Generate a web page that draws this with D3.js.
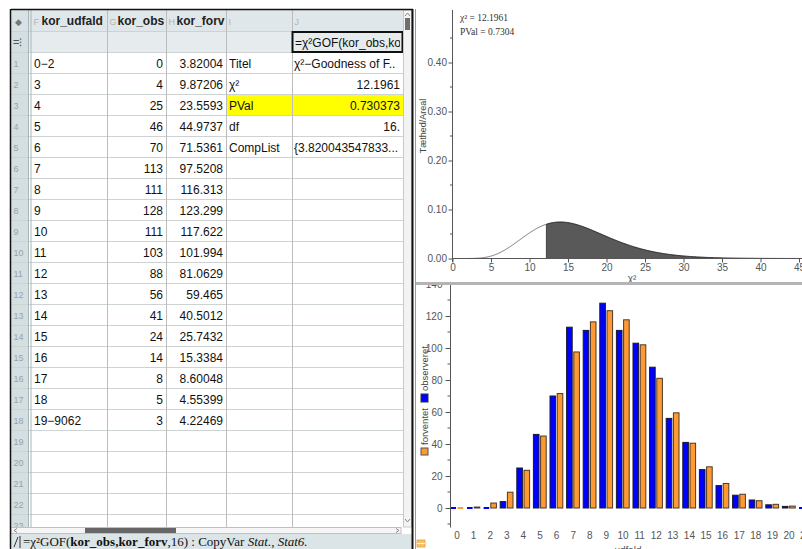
<!DOCTYPE html>
<html><head><meta charset="utf-8">
<script src="https://cdn.jsdelivr.net/npm/d3@7"></script>
<style>
html,body{margin:0;padding:0;background:#fff;}
svg{display:block;}
text{font-family:"Liberation Sans",Arial,sans-serif;}
text.serif{font-family:"Liberation Serif","Times New Roman",serif;}
</style></head><body>
<svg id="c" width="802" height="549"></svg>
<script>
// ---------- data ----------
const udfald  = ["0−2","3","4","5","6","7","8","9","10","11","12","13","14","15","16","17","18","19−9062"];
const korObs  = [0,4,25,46,70,113,111,128,111,103,88,56,41,24,14,8,5,3];
const korForv = ["3.82004","9.87206","23.5593","44.9737","71.5361","97.5208","116.313","123.299","117.622","101.994","81.0629","59.465","40.5012","25.7432","15.3384","8.60048","4.55399","4.22469"];
const statNames  = ["Titel","χ²","PVal","df","CompList"];
const statValues = ["χ²−Goodness of F..","12.1961","0.730373","16.","{3.820043547833..."];
const colLetters = ["F","G","H","I","J"];
const colNames   = ["kor_udfald","kor_obs","kor_forv","",""];
const chi2Stat = 12.1961, pValStat = 0.7304, dfStat = 16;
const chiTicks = [0,5,10,15,20,25,30,35,40,45];
const densTicks = [0,0.1,0.2,0.3,0.4];
const barCats = ["0","1","2","3","4","5","6","7","8","9","10","11","12","13","14","15","16","17","18","19","20","21"];
const observeret = [0,0,0,4,25,46,70,113,111,128,111,103,88,56,41,24,14,8,5,2,1,0];
const forventet  = [0.1,0.6,3.1,9.87,23.56,44.97,71.54,97.52,116.31,123.30,117.62,101.99,81.06,59.47,40.50,25.74,15.34,8.60,4.55,2.3,1.2,0.5];
const countTicks = [0,20,40,60,80,100,120,140];

const svg = d3.select("#c");
const defs = svg.append("defs");

// ---------- spreadsheet ----------
const sh = svg.append("g");
const L = 11, R = 403, TOP = 10, ROW0 = 52.5, RH = 21, SB = 527;
const colEdges = [31,107,166,226,292,403];
const rowTop = r => ROW0 + (r-1)*RH;

sh.append("rect").attr("x",L).attr("y",TOP).attr("width",R-L).attr("height",21.5).attr("fill","#dfe7ea");
sh.append("rect").attr("x",L).attr("y",31.5).attr("width",R-L).attr("height",21).attr("fill","#e6eced");
sh.append("rect").attr("x",L).attr("y",31.5).attr("width",17).attr("height",SB-31.5).attr("fill","#d3dfe1");
sh.append("rect").attr("x",L).attr("y",TOP).attr("width",17).attr("height",21.5).attr("fill","#d8e2e5");
sh.append("rect").attr("x",226.5).attr("y",rowTop(3)).attr("width",R-226.5).attr("height",RH).attr("fill","#ffff00");

const hLines = [31.5, 52.5].concat(d3.range(1,24).map(r => rowTop(r)+RH));
sh.selectAll("line.h").data(hLines).enter().append("line")
  .attr("x1",L).attr("x2",R).attr("y1",d=>d).attr("y2",d=>d)
  .attr("stroke","#cdd2d3").attr("stroke-width",1);
sh.selectAll("line.v").data(colEdges.slice(1,5)).enter().append("line")
  .attr("x1",d=>d+0.5).attr("x2",d=>d+0.5).attr("y1",TOP).attr("y2",SB)
  .attr("stroke","#bcbcbc");
sh.append("line").attr("x1",28.5).attr("x2",28.5).attr("y1",TOP).attr("y2",SB).attr("stroke","#a9b6b9");
sh.append("line").attr("x1",31).attr("x2",31).attr("y1",TOP).attr("y2",SB).attr("stroke","#a9b6b9");

// header
sh.append("text").attr("x",15).attr("y",25).attr("font-size",9).attr("fill","#777").text("◆");
colLetters.forEach((c,i)=>{
  sh.append("text").attr("x",colEdges[i]+2.5).attr("y",25).attr("font-size",9).attr("fill","#b5b5b5").text(c);
  if (colNames[i]) sh.append("text").attr("x",colEdges[i]+10.5).attr("y",25).attr("font-size",12)
      .attr("font-weight","bold").attr("fill","#222").text(colNames[i]);
});
sh.append("text").attr("x",13).attr("y",46).attr("font-size",11).attr("fill","#555").text("=⁝");
sh.append("rect").attr("x",292.5).attr("y",32).attr("width",110).attr("height",20)
  .attr("fill","none").attr("stroke","#111").attr("stroke-width",2);
defs.append("clipPath").attr("id","jclip").append("rect")
  .attr("x",293).attr("y",30).attr("width",107).attr("height",100);
sh.append("text").attr("x",295).attr("y",46.5).attr("font-size",12).attr("fill","#111")
  .attr("clip-path","url(#jclip)").text("=χ²GOF(kor_obs,kor_forv,16)");

d3.range(1,24).forEach(r=>{
  sh.append("text").attr("x",13.5).attr("y",rowTop(r)+14).attr("font-size",9).attr("fill","#9aa3a5").text(r);
});
udfald.forEach((u,i)=>{
  const y = rowTop(i+1)+15;
  sh.append("text").attr("x",34).attr("y",y).attr("font-size",12).attr("fill","#111").text(u);
  sh.append("text").attr("x",163).attr("y",y).attr("font-size",12).attr("fill","#111").attr("text-anchor","end").text(korObs[i]);
  sh.append("text").attr("x",223).attr("y",y).attr("font-size",12).attr("fill","#111").attr("text-anchor","end").text(korForv[i]);
});
statNames.forEach((s,i)=>{
  const y = rowTop(i+1)+15;
  sh.append("text").attr("x",229).attr("y",y).attr("font-size",12).attr("fill","#111").text(s);
  const v = statValues[i];
  const numeric = !isNaN(parseFloat(v));
  sh.append("text").attr("x",numeric?400:294).attr("y",y).attr("font-size",12).attr("fill","#111")
    .attr("text-anchor",numeric?"end":"start").text(v);
});

// scrollbars
sh.append("rect").attr("x",403.5).attr("y",TOP).attr("width",8).attr("height",SB-TOP).attr("fill","#f3f3f3").attr("stroke","#c8c8c8");
sh.append("rect").attr("x",405).attr("y",18).attr("width",5).attr("height",12).attr("fill","#6e6e6e");
sh.append("path").attr("d","M405,16 L407.5,13 L410,16").attr("fill","none").attr("stroke","#888");
sh.append("path").attr("d","M405,519 L407.5,522 L410,519").attr("fill","none").attr("stroke","#888");
sh.append("rect").attr("x",L).attr("y",527.5).attr("width",401-L).attr("height",6).attr("fill","#f5f5f5").attr("stroke","#c0c0c0");
sh.append("rect").attr("x",85).attr("y",528).attr("width",91).attr("height",5).attr("fill","#666");
sh.append("path").attr("d","M17,528.5 L14,530.5 L17,532.5").attr("fill","none").attr("stroke","#888");
sh.append("path").attr("d","M396,528.5 L399,530.5 L396,532.5").attr("fill","none").attr("stroke","#888");
// status bar
sh.append("rect").attr("x",L).attr("y",534).attr("width",412-L).attr("height",15).attr("fill","#dbe5e7");
sh.append("path").attr("d","M14,547 L18,537 M20,536 L20,548").attr("stroke","#333").attr("stroke-width",1);
const st = sh.append("text").attr("class","serif").attr("x",23).attr("y",546).attr("font-size",13).attr("fill","#111");
st.append("tspan").text("=χ²GOF(");
st.append("tspan").attr("font-weight","bold").text("kor_obs,kor_forv");
st.append("tspan").text(",16) : CopyVar ");
st.append("tspan").attr("font-style","italic").text("Stat.");
st.append("tspan").text(", ");
st.append("tspan").attr("font-style","italic").text("Stat6.");
// panel borders
sh.append("line").attr("x1",L).attr("x2",413).attr("y1",9.5).attr("y2",9.5).attr("stroke","#111").attr("stroke-width",1.5);
sh.append("line").attr("x1",L-0.5).attr("x2",L-0.5).attr("y1",9).attr("y2",549).attr("stroke","#111").attr("stroke-width",1.5);
sh.append("line").attr("x1",412.5).attr("x2",412.5).attr("y1",9).attr("y2",549).attr("stroke","#111").attr("stroke-width",2);
sh.append("line").attr("x1",415.5).attr("x2",415.5).attr("y1",9).attr("y2",549).attr("stroke","#9a9a9a").attr("stroke-width",1);

// ---------- top graph: chi-square density ----------
const tg = svg.append("g");
defs.append("clipPath").attr("id","topclip").append("rect")
  .attr("x",416).attr("y",10).attr("width",386).attr("height",272);
tg.attr("clip-path","url(#topclip)");
tg.append("line").attr("x1",413).attr("x2",802).attr("y1",9.5).attr("y2",9.5).attr("stroke","#aaa");
const xC = d3.scaleLinear().domain([0,45]).range([452.5,799]);
const yD = d3.scaleLinear().domain([0,0.4]).range([258.5,62.5]);
const halfK = dfStat/2;
const gammaHalfK = d3.range(1,halfK).reduce((a,b)=>a*b,1);
const pdf = x => x<=0 ? 0 : Math.pow(x,halfK-1)*Math.exp(-x/2)/(Math.pow(2,halfK)*gammaHalfK);
const xsLeft = d3.range(0, chi2Stat, 0.1).concat([chi2Stat]);
const xsRight = [chi2Stat].concat(d3.range(Math.ceil(chi2Stat*10)/10, 47, 0.1));
const line = d3.line().x(d=>xC(d)).y(d=>yD(pdf(d)));
const area = d3.area().x(d=>xC(d)).y0(yD(0)).y1(d=>yD(pdf(d)));
tg.append("path").attr("d",area(xsRight)).attr("fill","#595959");
tg.append("path").attr("d",line(xsRight)).attr("fill","none").attr("stroke","#222").attr("stroke-width",1);
tg.append("path").attr("d",line(xsLeft)).attr("fill","none").attr("stroke","#777").attr("stroke-width",1);
tg.append("line").attr("x1",xC(chi2Stat)).attr("x2",xC(chi2Stat)).attr("y1",yD(0)).attr("y2",yD(pdf(chi2Stat)))
  .attr("stroke","#444").attr("stroke-width",1);
const yAxT = d3.axisLeft(yD).tickValues(densTicks).tickFormat(d3.format(".2f")).tickSize(4).tickSizeOuter(0);
const gyT = tg.append("g").attr("transform","translate(452.5,0)").call(yAxT);
gyT.select(".domain").remove();
tg.append("line").attr("x1",452.5).attr("x2",452.5).attr("y1",10).attr("y2",262).attr("stroke","#555");
tg.selectAll("line.minT").data([0.05,0.15,0.25,0.35,0.45]).enter().append("line")
  .attr("x1",450).attr("x2",452.5).attr("y1",d=>yD(d)).attr("y2",d=>yD(d)).attr("stroke","#555");
const xAxT = d3.axisBottom(xC).tickValues(chiTicks).tickSize(4).tickSizeOuter(0);
const gxT = tg.append("g").attr("transform","translate(0,258.5)").call(xAxT);
gxT.select(".domain").remove();
tg.append("line").attr("x1",452.5).attr("x2",802).attr("y1",258.5).attr("y2",258.5).attr("stroke","#555");
[gyT,gxT].forEach(g=>{
  g.selectAll("text").attr("font-size",10).attr("fill","#555").style("font-family","'Liberation Sans',Arial,sans-serif");
  g.selectAll(".tick line").attr("stroke","#555");
});
gyT.selectAll("text").attr("dx",1.5);
gxT.selectAll("text").attr("dy","0.55em");
tg.append("text").attr("x",425.5).attr("y",126).attr("transform","rotate(-90,425.5,126)")
  .attr("text-anchor","middle").attr("font-size",9).attr("fill","#444").text("Tæthed/Areal");
tg.append("text").attr("x",632).attr("y",282).attr("text-anchor","middle").attr("font-size",10).attr("fill","#555").text("χ²");
tg.append("text").attr("class","serif").attr("x",460).attr("y",21).attr("font-size",9.5).attr("fill","#333")
  .text("χ² = " + chi2Stat.toFixed(4));
tg.append("text").attr("class","serif").attr("x",460).attr("y",35).attr("font-size",9.5).attr("fill","#333")
  .text("PVal = " + pValStat.toFixed(4));

svg.append("rect").attr("x",416).attr("y",282).attr("width",386).attr("height",3).attr("fill","#b4b4b4");

// ---------- bottom graph: bars ----------
const bg = svg.append("g");
defs.append("clipPath").attr("id","botclip").append("rect")
  .attr("x",416).attr("y",285).attr("width",386).attr("height",264);
bg.attr("clip-path","url(#botclip)");
const xB = d3.scalePoint().domain(barCats).range([457, 457+16.6*21]);
const yB = d3.scaleLinear().domain([0,140]).range([508,284]);
const barW = 5.6;
function drawBars(vals, dx, fill, stroke){
  bg.selectAll(null).data(barCats).enter().append("rect")
    .attr("x",d=>xB(d)+dx)
    .attr("width",barW)
    .attr("y",(d,i)=> vals[i] < 0.3 ? yB(0)-1 : yB(vals[i]))
    .attr("height",(d,i)=> vals[i] < 0.3 ? 2 : yB(0)-yB(vals[i]))
    .attr("fill",fill)
    .attr("stroke",(d,i)=> vals[i] < 0.3 ? "none" : stroke)
    .attr("stroke-width",1);
}
drawBars(observeret, -6.6, "#0000ff", "#1a1a2a");
drawBars(forventet, 0.6, "#ff9a33", "#4a3a2a");
const yAxB = d3.axisLeft(yB).tickValues(countTicks).tickSize(5).tickSizeOuter(0);
const gyB = bg.append("g").attr("transform","translate(450.5,0)").call(yAxB);
gyB.select(".domain").remove();
bg.append("line").attr("x1",450.5).attr("x2",450.5).attr("y1",284).attr("y2",527.5).attr("stroke","#555");
bg.selectAll("line.minB").data([-10,10,30,50,70,90,110,130]).enter().append("line")
  .attr("x1",447.5).attr("x2",450.5).attr("y1",d=>yB(d)).attr("y2",d=>yB(d)).attr("stroke","#555");
gyB.selectAll("text").attr("font-size",10).attr("fill","#555").style("font-family","'Liberation Sans',Arial,sans-serif");
gyB.selectAll(".tick line").attr("stroke","#555");
bg.selectAll("text.xl").data(barCats).enter().append("text")
  .attr("x",d=>xB(d)).attr("y",539).attr("text-anchor","middle")
  .attr("font-size",10).attr("fill","#555").text(d=>d);
bg.append("text").attr("x",628).attr("y",554).attr("text-anchor","middle").attr("font-size",10).attr("fill","#555").text("udfald");
const lg = bg.append("g");
lg.append("rect").attr("x",421).attr("y",448).attr("width",7).attr("height",7).attr("fill","#ff9a33").attr("stroke","#555");
lg.append("text").attr("x",428).attr("y",445).attr("transform","rotate(-90,428,445)")
  .attr("font-size",9.5).attr("fill","#444").text("forventet");
lg.append("rect").attr("x",421).attr("y",394).attr("width",7).attr("height",8).attr("fill","#0000ff").attr("stroke","#333");
lg.append("text").attr("x",428).attr("y",391).attr("transform","rotate(-90,428,391)")
  .attr("font-size",9.5).attr("fill","#444").text("observeret");
svg.append("rect").attr("x",417).attr("y",540).attr("width",8).attr("height",7).attr("fill","#f5c36b").attr("stroke","#d9a040").attr("stroke-width",0.8);
svg.append("line").attr("x1",417).attr("x2",425).attr("y1",543.5).attr("y2",543.5).attr("stroke","#fff").attr("stroke-width",0.8);
</script>
</body></html>
